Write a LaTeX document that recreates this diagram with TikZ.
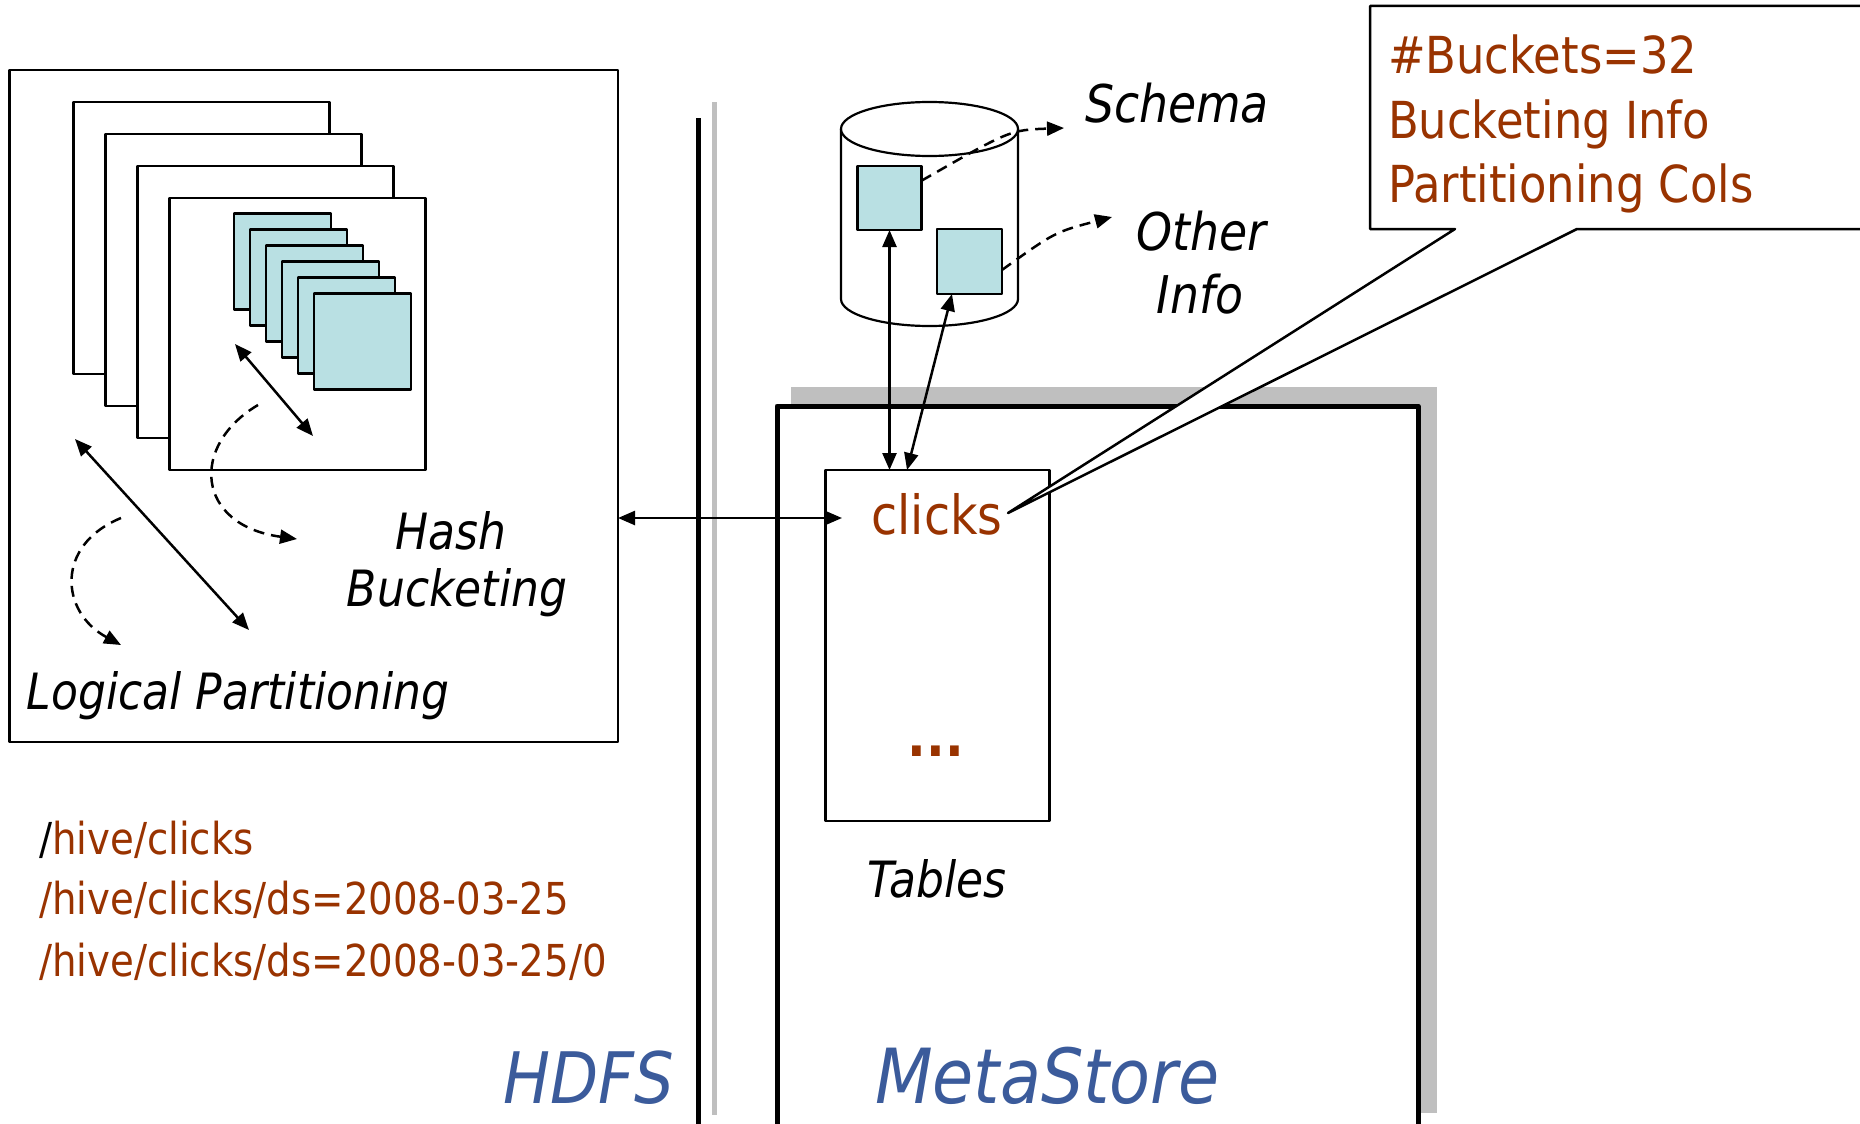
\documentclass[tikz,border=0pt]{standalone}
\usepackage{fontspec}
\setmainfont[FakeStretch=0.88]{DejaVu Sans}
\usetikzlibrary{arrows.meta,calc}
\definecolor{brn}{HTML}{993300}
\definecolor{tealfill}{HTML}{B9E0E3}
\definecolor{shadegray}{HTML}{BFBFBF}
\definecolor{blu}{HTML}{3B5B9B}
\newcommand{\fs}[1]{\fontsize{#1pt}{#1pt}\selectfont}
\begin{document}
\begin{tikzpicture}[x=1pt,y=-1pt,
  dbl/.style={{Triangle[length=17pt,width=14pt]}-{Triangle[length=17pt,width=14pt]}, line width=2.5pt},
  dsh/.style={-{Triangle[length=17pt,width=14pt]}, line width=2.5pt, dash pattern=on 11pt off 7pt},
  box/.style={draw, line width=2.2pt, fill=white, inner sep=0pt, outer sep=0pt, anchor=north west},
  sq/.style={box, fill=tealfill},
  lbl/.style={inner sep=0pt, outer sep=0pt},
  line join=round]
\useasboundingbox (0,0) rectangle (1860,1124);
\clip (0,0) rectangle (1860,1124);
\fill[white] (0,0) rectangle (1860,1124);

% MetaStore panel with shadow
\fill[shadegray] (791,387) rectangle (1437,1113);
\node[box, line width=5pt, minimum width=641pt, minimum height=740pt] (metastore) at (777,406) {};

% dividers
\draw[line width=5pt] (698,118) -- (698,1140);
\draw[shadegray, line width=5pt] (714,102) -- (714,1115);

% HDFS storage box
\node[box, minimum width=608.5pt, minimum height=672pt] (hdfs) at (9.5,70) {};
\foreach \k in {0,...,3}
  \node[box, minimum width=256pt, minimum height=272pt] (pg\k) at ({73.5+32*\k},{102+32*\k}) {};
\foreach \k in {0,...,5}
  \node[sq, minimum width=97pt, minimum height=96pt] (bk\k) at ({233.6+16*\k},{213.5+16*\k}) {};

\coordinate (hb1) at (235,344);
\coordinate (hb2) at (313,436);
\draw[dbl] (hb1) -- (hb2);
\coordinate (lp1) at (75,439);
\coordinate (lp2) at (249,630);
\draw[dbl] (lp1) -- (lp2);

\coordinate (hc0) at (258,405);
\coordinate (hc1) at (297,539);
\draw[dsh] (hc0) .. controls (190,445) and (195,525) .. (hc1);
\coordinate (lc0) at (121,518);
\coordinate (lc1) at (121,645);
\draw[dsh] (lc0) .. controls (55,545) and (60,612) .. (lc1);

\node[lbl, anchor=base, font=\fs{50}\itshape] (hash) at (451,549) {Hash};
\node[lbl, anchor=base, font=\fs{50}\itshape] (bucketing) at (457,606) {Bucketing};
\node[lbl, anchor=base west, font=\fs{50}\itshape] (logical) at (27,709) {Logical Partitioning};

% paths
\node[lbl, anchor=base west, text=brn, font=\fs{44}] (p1) at (39,854) {{\color{black}/}hive/clicks};
\node[lbl, anchor=base west, text=brn, font=\fs{44}] (p2) at (39,914) {/hive/clicks/ds=2008-03-25};
\node[lbl, anchor=base west, text=brn, font=\fs{44}] (p3) at (39,976) {/hive/clicks/ds=2008-03-25/0};

\node[lbl, anchor=base east, text=blu, font=\fs{71}\itshape] (hdfslbl) at (674,1103) {HDFS};
\node[lbl, anchor=base west, text=blu, font=\fs{76}\itshape] (mslbl) at (875,1103) {MetaStore};

% cylinder
\draw[line width=2.2pt, fill=white] (841,129) -- (841,299)
  .. controls (841,313.9) and (880.6,326) .. (929.5,326)
  .. controls (978.4,326) and (1018,313.9) .. (1018,299) -- (1018,129);
\draw[line width=2.2pt, fill=white] (929.5,129) ellipse [x radius=88.5, y radius=27];
\node[sq, minimum width=64pt, minimum height=64pt] (sch) at (857.5,166) {};
\node[sq, minimum width=65pt, minimum height=65pt] (oth) at (937,229) {};

\coordinate (schtip) at (1064,128);
\draw[dsh] ($(sch.north east)!0.23!(sch.south east)$) .. controls (1010,130) .. (schtip);
\coordinate (othtip) at (1112,217);
\draw[dsh] ($(oth.north east)!0.63!(oth.south east)$) .. controls (1055,232) .. (othtip);

\node[lbl, anchor=base west, font=\fs{52}\itshape] (schema) at (1085,122) {Schema};
\node[lbl, anchor=base, font=\fs{52}\itshape] (other) at (1201,250) {Other};
\node[lbl, anchor=base, font=\fs{52}\itshape] (info) at (1200,313) {Info};

% tables
\node[box, minimum width=224pt, minimum height=350.7pt] (tables) at (825.5,470) {};
\node[lbl, anchor=base, text=brn, font=\fs{54}] (clicks) at (937,534) {clicks};
\node[lbl, anchor=center, text=brn, font=\fs{56}\bfseries] (dots) at (936,751) {...};
\node[lbl, anchor=base, font=\fs{50}\itshape] (tableslbl) at (937,897) {Tables};

\draw[dbl] (sch.south) -- (sch.south |- tables.north);
\draw[dbl] ($(oth.south west)!0.23!(oth.south east)$) -- ($(tables.north west)!0.364!(tables.north east)$);
\coordinate (hin) at (842,518);
\draw[dbl] (hin -| hdfs.east) -- (hin);

% callout
\coordinate (ctip) at (1008,513);
\draw[line width=2.5pt, fill=white] (1370,6) -- (1880,6) -- (1880,229) -- (1577,229) -- (ctip) -- (1455,229) -- (1370,229) -- cycle;
\node[lbl, anchor=base west, text=brn, font=\fs{51}] (cb1) at (1388,74) {\#Buckets=32};
\node[lbl, anchor=base west, text=brn, font=\fs{51}] (cb2) at (1388,138) {Bucketing Info};
\node[lbl, anchor=base west, text=brn, font=\fs{51}] (cb3) at (1388,202) {Partitioning Cols};
\end{tikzpicture}
\end{document}
